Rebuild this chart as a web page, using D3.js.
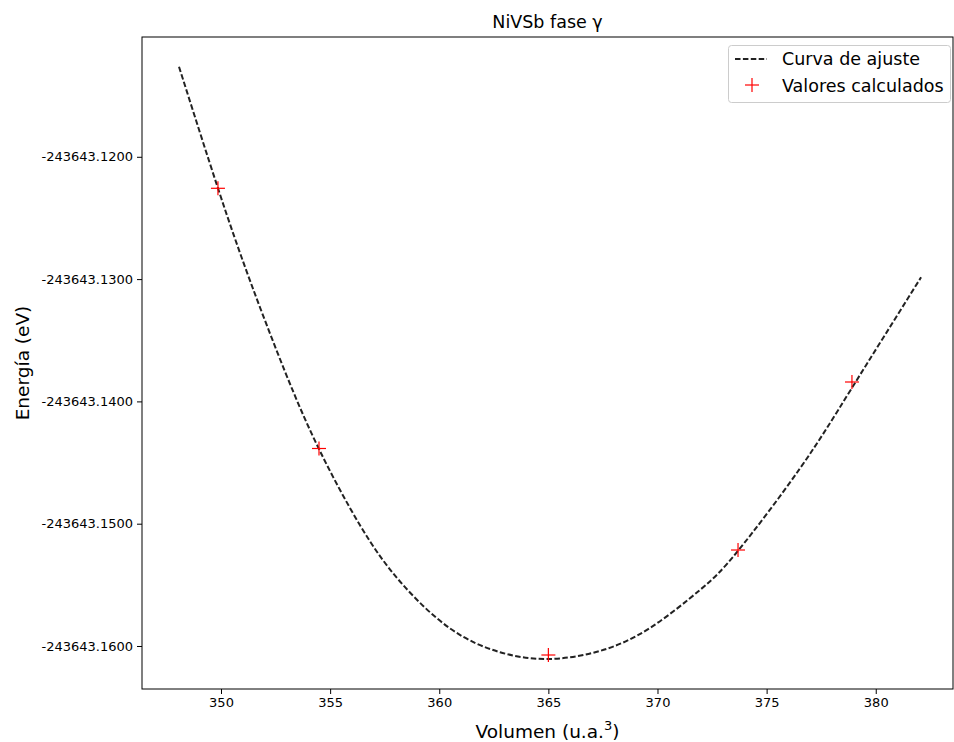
<!DOCTYPE html>
<html>
<head>
<meta charset="utf-8">
<script src="https://cdn.jsdelivr.net/npm/d3@7"></script>
<style>
  html, body { margin: 0; padding: 0; background: #fff; }
  svg { display: block; font-family: "DejaVu Sans", sans-serif; }
</style>
</head>
<body>
<svg id="chart" width="954" height="742"></svg>
<script>
// ---- data ----
const title = "NiVSb fase γ";
const xLabel = "Volumen (u.a.";
const yLabel = "Energía (eV)";
const legendLabels = ["Curva de ajuste", "Valores calculados"];

// calculated values
const calcVolume = [349.86, 354.49, 365.0, 373.69, 378.91];
const calcEnergy = [-243643.122576, -243643.143851, -243643.160736, -243643.152151, -243643.138414];

// fitted curve
const fitVolume = [348.075, 349.863, 351.329, 352.933, 354.491, 356.370, 358.202, 360.494, 362.785, 364.984, 367.367, 369.658, 371.949, 373.691, 376.532, 378.915, 382.077];
const fitEnergy = [-243643.112633, -243643.122584, -243643.130123, -243643.137563, -243643.143900, -243643.150131, -243643.154726, -243643.158561, -243643.160507, -243643.161063, -243643.160401, -243643.158520, -243643.155413, -243643.152216, -243643.145470, -243643.138880, -243643.129853];

const xTicks = [350, 355, 360, 365, 370, 375, 380];
const yTicks = [-243643.12, -243643.13, -243643.14, -243643.15, -243643.16];

const xDomain = [346.38, 383.54];
const yDomain = [-243643.163516, -243643.110205];

// ---- layout ----
const svg = d3.select("#chart");
const L = 142, R = 953, T = 37, B = 689;

const x = d3.scaleLinear().domain(xDomain).range([L, R]);
const y = d3.scaleLinear().domain(yDomain).range([B, T]);

// axes
const xAxis = d3.axisBottom(x).tickValues(xTicks).tickFormat(d3.format("d")).tickSize(5).tickPadding(4);
const yAxis = d3.axisLeft(y).tickValues(yTicks).tickFormat(d => d.toFixed(4)).tickSize(5).tickPadding(4);

const gx = svg.append("g").attr("transform", `translate(0,${B})`).call(xAxis);
const gy = svg.append("g").attr("transform", `translate(${L},0)`).call(yAxis);
[gx, gy].forEach(g => {
  g.select(".domain").remove();
  g.selectAll(".tick line").attr("stroke", "#000").attr("stroke-width", 1);
  g.selectAll(".tick text").attr("fill", "#000").style("font-size", "13px").style("font-family", "DejaVu Sans");
});

// fitted curve
const fitData = fitVolume.map((v, i) => [v, fitEnergy[i]]);
const line = d3.line().x(d => x(d[0])).y(d => y(d[1])).curve(d3.curveNatural);
svg.append("path")
  .datum(fitData)
  .attr("d", line)
  .attr("fill", "none")
  .attr("stroke", "#222")
  .attr("stroke-width", 2)
  .attr("stroke-dasharray", "5.5,2.4");

// calculated points ('+' markers)
const calcData = calcVolume.map((v, i) => [v, calcEnergy[i]]);
const m = 7;
const pts = svg.append("g").selectAll("g").data(calcData).join("g")
  .attr("transform", d => `translate(${x(d[0])},${y(d[1])})`);
pts.append("line").attr("x1", -m).attr("x2", m).attr("y1", 0).attr("y2", 0)
  .attr("stroke", "#ff0000").attr("stroke-width", 1.2);
pts.append("line").attr("x1", 0).attr("x2", 0).attr("y1", -m).attr("y2", m)
  .attr("stroke", "#ff0000").attr("stroke-width", 1.2);

// frame
svg.append("rect").attr("x", L).attr("y", T).attr("width", R - L).attr("height", B - T)
  .attr("fill", "none").attr("stroke", "#000").attr("stroke-width", 1);

// title
svg.append("text").attr("x", (L + R) / 2).attr("y", 28).attr("text-anchor", "middle")
  .style("font-size", "17.5px").attr("fill", "#000").text(title);

// x label
const xl = svg.append("text").attr("x", (L + R) / 2).attr("y", 738).attr("text-anchor", "middle")
  .style("font-size", "18.5px").attr("fill", "#000");
xl.append("tspan").text(xLabel);
xl.append("tspan").attr("dy", -8).style("font-size", "13px").text("3");
xl.append("tspan").attr("dy", 8).text(")");

// y label
svg.append("text").attr("transform", `translate(29,${(T + B) / 2}) rotate(-90)`)
  .attr("text-anchor", "middle").style("font-size", "18.5px").attr("fill", "#000").text(yLabel);

// legend
const lg = svg.append("g");
lg.append("rect").attr("x", 728.5).attr("y", 45.5).attr("width", 222).attr("height", 57).attr("rx", 3)
  .attr("fill", "#fff").attr("stroke", "#ccc").attr("stroke-width", 1);
lg.append("line").attr("x1", 735).attr("x2", 767).attr("y1", 59).attr("y2", 59)
  .attr("stroke", "#222").attr("stroke-width", 2).attr("stroke-dasharray", "5.5,2.4");
lg.append("line").attr("x1", 745).attr("x2", 759).attr("y1", 85).attr("y2", 85)
  .attr("stroke", "#ff0000").attr("stroke-width", 1.2);
lg.append("line").attr("x1", 752).attr("x2", 752).attr("y1", 78).attr("y2", 92)
  .attr("stroke", "#ff0000").attr("stroke-width", 1.2);
lg.append("text").attr("x", 782).attr("y", 65).style("font-size", "17.5px").attr("fill", "#000").text(legendLabels[0]);
lg.append("text").attr("x", 782).attr("y", 92).style("font-size", "17.5px").attr("fill", "#000").text(legendLabels[1]);
</script>
</body>
</html>
